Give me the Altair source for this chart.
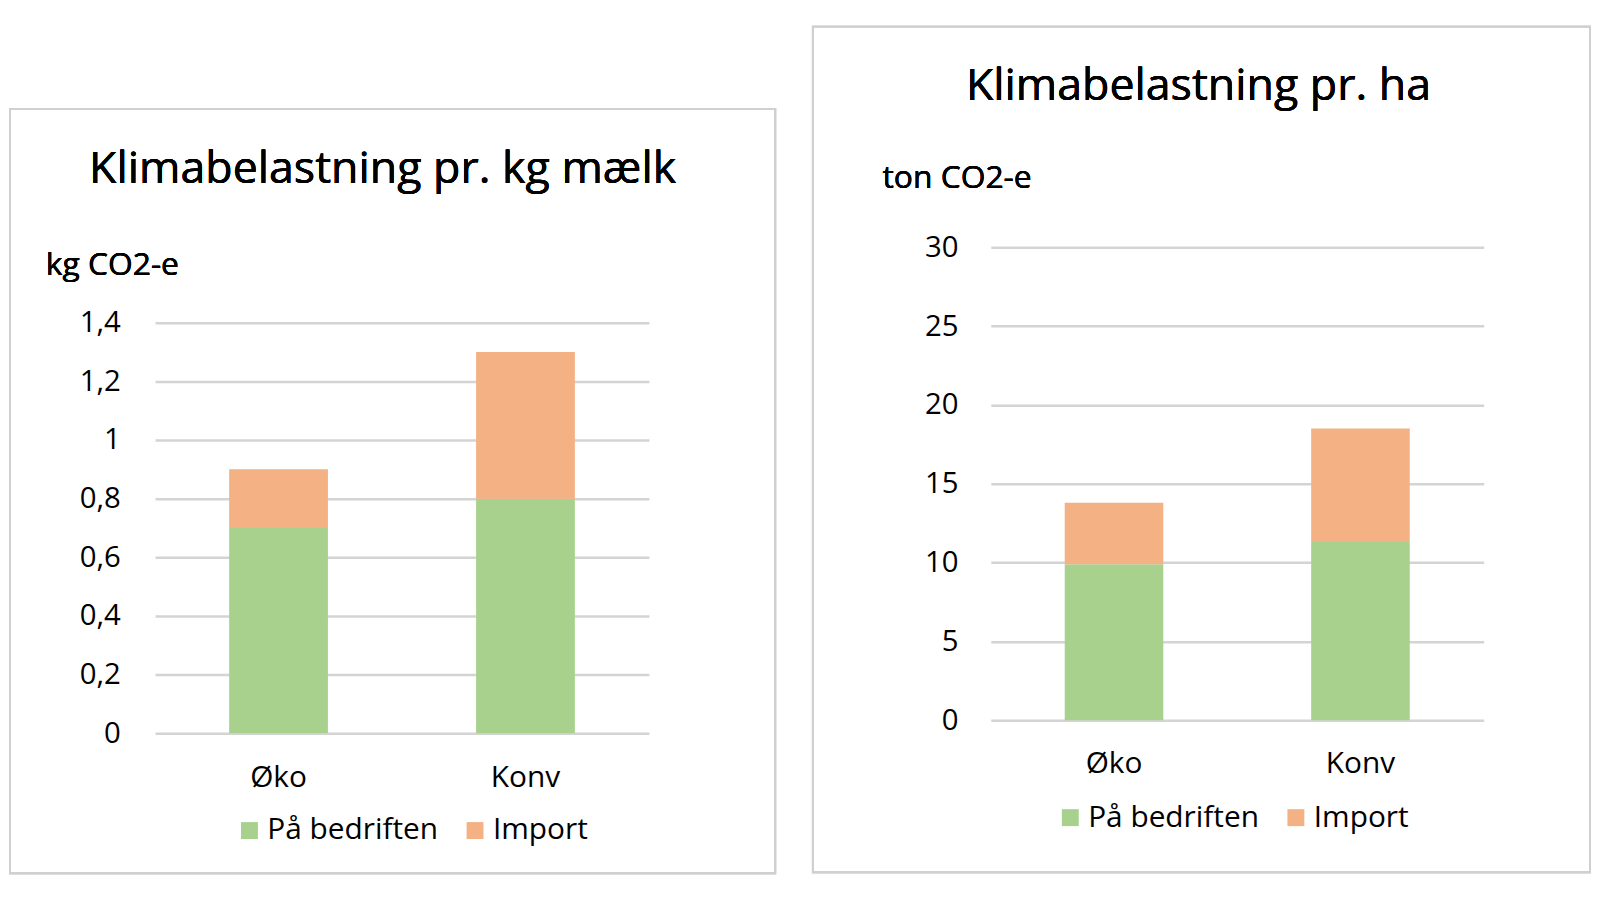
import altair as alt
import pandas as pd

categories = ["Øko", "Konv"]
series = ["På bedriften", "Import"]

kg_paa_bedriften = [0.7, 0.8]
kg_import = [0.2, 0.5]
kg_ticks = [0, 0.2, 0.4, 0.6, 0.8, 1.0, 1.2, 1.4]

ha_paa_bedriften = [9.9, 11.3]
ha_import = [3.9, 7.2]
ha_ticks = [0, 5, 10, 15, 20, 25, 30]

colors = ["#a9d18e", "#f4b183"]
FONT = "Open Sans"
GRID = "#d4d4d4"


def make_df(paa, imp):
    rows = []
    for i, c in enumerate(categories):
        rows.append({"kategori": c, "serie": series[0], "værdi": paa[i], "orden": 0})
        rows.append({"kategori": c, "serie": series[1], "værdi": imp[i], "orden": 1})
    return pd.DataFrame(rows)


def panel(df, title, unit, ticks, ymax, W, H, y_top, box, title_pos, unit_pos, legend_pos,
          xpad, ypad):
    base = alt.Chart(df)
    bars = base.mark_bar().encode(
        x=alt.X("kategori:N", sort=categories,
                scale=alt.Scale(paddingInner=0.6, paddingOuter=0.3),
                axis=alt.Axis(title=None, labelAngle=0, ticks=False, domain=False,
                              labelFont=FONT, labelFontSize=30, labelColor="#000000",
                              labelBaseline="middle", labelPadding=xpad)),
        y=alt.Y("værdi:Q", stack="zero",
                scale=alt.Scale(domain=[0, ymax], nice=False, range=[H, y_top]),
                axis=alt.Axis(title=None, values=ticks, grid=True, gridColor=GRID, gridWidth=2.5,
                              ticks=False, domain=False,
                              labelFont=FONT, labelFontSize=29.5, labelColor="#000000",
                              labelPadding=ypad,
                              labelExpr="replace(format(datum.value, '~g'), '.', ',')")),
        color=alt.Color("serie:N", sort=series,
                        scale=alt.Scale(domain=series, range=colors),
                        legend=alt.Legend(title=None, orient="none", direction="horizontal",
                                          legendX=legend_pos[0], legendY=legend_pos[1],
                                          symbolType="square", symbolSize=290,
                                          symbolStrokeWidth=0, labelOffset=3,
                                          columnPadding=22, labelLimit=400,
                                          labelFont=FONT, labelFontSize=30,
                                          labelColor="#000000")),
        order=alt.Order("orden:Q", sort="ascending"),
    )
    frame = base.mark_rect(fill="transparent", stroke="#d0d0d0", strokeWidth=2).encode(
        x=alt.value(box[0]), x2=alt.value(box[1]), y=alt.value(box[2]), y2=alt.value(box[3])
    )
    title_mark = base.mark_text(font=FONT, fontSize=45, color="#000000",
                                align="center", baseline="middle", text=title).encode(
        x=alt.value(title_pos[0]), y=alt.value(title_pos[1])
    )
    unit_mark = base.mark_text(font=FONT, fontSize=32, color="#000000",
                               align="left", baseline="middle", text=unit).encode(
        x=alt.value(unit_pos[0]), y=alt.value(unit_pos[1])
    )
    return alt.layer(frame, bars, title_mark, unit_mark).properties(width=W, height=H)


kg_df = make_df(kg_paa_bedriften, kg_import)
ha_df = make_df(ha_paa_bedriften, ha_import)

left = panel(kg_df, "Klimabelastning pr. kg mælk", "kg CO2-e", kg_ticks, 1.4,
             W=497, H=489, y_top=76,
             box=(-146, 624, -139, 630),
             title_pos=(229, -79), unit_pos=(-110, 18),
             legend_pos=(80, 572), xpad=45, ypad=35)

right = panel(ha_df, "Klimabelastning pr. ha", "ton CO2-e", ha_ticks, 30,
              W=496, H=476, y_top=0,
              box=(-179, 603, -222, 629),
              title_pos=(209, -162), unit_pos=(-109, -70),
              legend_pos=(65, 559), xpad=44, ypad=33)

chart = alt.hconcat(left, right, spacing=34).properties(
    padding={"left": 0, "top": 14, "right": 0, "bottom": 0}
).configure_view(stroke="transparent").resolve_scale(color="independent", y="independent", x="independent")

chart.save("out.html", embed_options={"renderer": "svg", "actions": False})
